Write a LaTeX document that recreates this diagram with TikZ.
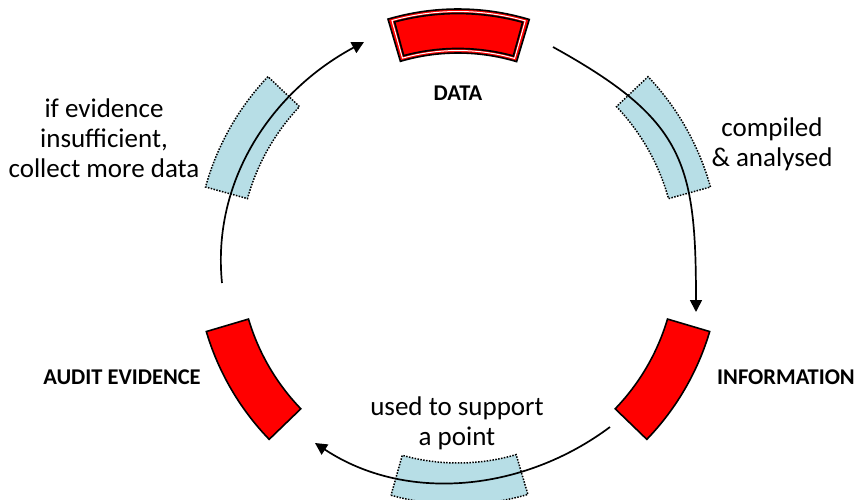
\documentclass[tikz,border=0pt]{standalone}
\usepackage{fontspec}
\setmainfont{Carlito}
\usetikzlibrary{arrows.meta}
\definecolor{stagered}{RGB}{255,0,0}
\definecolor{passblue}{RGB}{183,222,230}

% ring segment: start angle, end angle, inner radius, outer radius
\newcommand{\ringseg}[4]{(#1:#4) arc[start angle=#1, end angle=#2, radius=#4]
  -- (#2:#3) arc[start angle=#2, end angle=#1, radius=#3] -- cycle}

\begin{document}
\begin{tikzpicture}[
  x = 1pt, y = 1pt,
  stage/.style = {draw = black, line width = 1.6pt, fill = stagered},
  pass/.style = {draw = black, line width = 1.5pt, fill = passblue,
    dash pattern = on 1.5pt off 1.4pt},
  flow/.style = {line width = 1.7pt, -{Triangle[length = 12pt, width = 12pt]}},
  caption/.style = {font = \fontsize{27}{30}\selectfont, align = center},
  stagelabel/.style = {font = \fontsize{22.5}{25}\selectfont\bfseries}
]
\useasboundingbox (-458,-242) rectangle (398,257);

% red stages
\draw[stage] \ringseg{73.3}{106.4}{204}{248};
\draw[white, line width = 1pt] \ringseg{74.1}{105.6}{206.5}{245.5};
\draw[black, line width = 1.7pt] \ringseg{74.6}{105.1}{208.5}{243.5};
\draw[stage] \ringseg{-44}{-16.5}{218.5}{262.5};
\draw[stage] \ringseg{196.5}{224}{218.5}{262.5};

% blue transitions
\draw[pass] \ringseg{15.5}{43.5}{218.5}{262};
\draw[pass] \ringseg{136.5}{164.5}{218.5}{262};
\draw[pass] \ringseg{254.3}{286.4}{206}{247.5};

% arrows round the cycle
\coordinate (a1) at (95,210);
\coordinate (a2) at (238,-55);
\coordinate (b1) at (152,-170);
\coordinate (b2) at (-143,-186);
\coordinate (c1) at (-236,-26);
\coordinate (c2) at (-94,215);
\draw[flow] (a1) .. controls (226.3,137.4) and (238,95) .. (a2);
\draw[flow] (b1) .. controls (65,-235) and (-52.5,-246) .. (b2);
\draw[flow] (c1) .. controls (-246.3,76.5) and (-186.3,165.5) .. (c2);

% labels
\node[stagelabel] (data) at (0,164) {DATA};
\node[stagelabel] (info) at (328,-120) {INFORMATION};
\node[stagelabel] (audit) at (-336,-120) {AUDIT EVIDENCE};
\node[caption] (compiled) at (314,113) {compiled\\\& analysed};
\node[caption] (more) at (-354,119) {if evidence\\insufficient,\\collect more data};
\node[caption] (support) at (-1,-166) {used to support\\a point};
\end{tikzpicture}
\end{document}
